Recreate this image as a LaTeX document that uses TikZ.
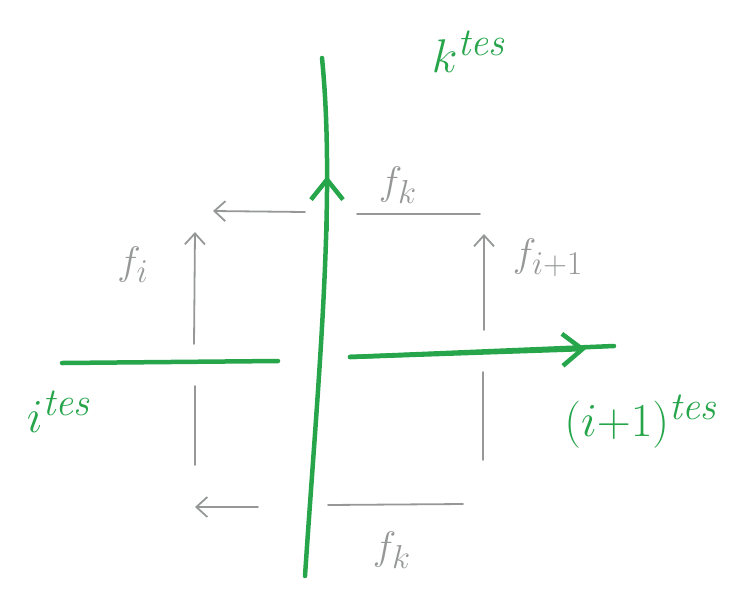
\documentclass[tikz,border=0pt]{standalone}
\usetikzlibrary{arrows.meta}
\usepackage{amsmath}

\definecolor{penGreen}{RGB}{38,165,75}
\definecolor{penGrey}{RGB}{150,152,152}

\begin{document}
\begin{tikzpicture}[x=1pt,y=-1pt,
        pen/.style={penGreen, line width=4.5pt, line cap=round},
        pencil/.style={penGrey, line width=1.8pt, line cap=round},
        greentip/.style={-{Straight Barb[length=20pt,width=32pt,line width=4.5pt]}},
        greytip/.style={-{Straight Barb[length=11pt,width=20pt,line width=1.8pt]}},
        greenlabel/.style={penGreen, font=\Huge, scale=1.9},
        greylabel/.style={penGrey, font=\Huge, scale=1.6}]
        \useasboundingbox (0,0) rectangle (741,606);

        % green strands
        \coordinate (vtop) at (322,58);
        \coordinate (vbot) at (305,576);
        \coordinate (vmid) at (327,176);
        \draw[pen] (vtop) .. controls (336,200) and (318,380) .. (vbot);
        \draw[pen, greentip] (327,230) -- (vmid);
        \coordinate (lstart) at (62,363);
        \coordinate (lend) at (278,361);
        \draw[pen] (lstart) -- (lend);
        \coordinate (rstart) at (350,357);
        \coordinate (rtip) at (586,349);
        \coordinate (rend) at (614,346);
        \draw[pen] (rstart) -- (rend);
        \draw[pen, greentip] (rstart) -- (rtip);

        % grey square, top side
        \coordinate (ta) at (305,212);
        \coordinate (tb) at (213,211);
        \coordinate (tc) at (357,214);
        \coordinate (td) at (480,214);
        \draw[pencil, greytip] (ta) -- (tb);
        \draw[pencil] (tc) -- (td);

        % left side
        \coordinate (la) at (195,465);
        \coordinate (lb) at (195,386);
        \coordinate (lc) at (194,344);
        \coordinate (ld) at (195,232);
        \draw[pencil] (la) -- (lb);
        \draw[pencil, greytip] (lc) -- (ld);

        % right side
        \coordinate (ra) at (483,460);
        \coordinate (rb) at (483,372);
        \coordinate (rc) at (484,330);
        \coordinate (rd) at (484,234);
        \draw[pencil] (ra) -- (rb);
        \draw[pencil, greytip] (rc) -- (rd);

        % bottom side
        \coordinate (ba) at (258,507);
        \coordinate (bb) at (195,507);
        \coordinate (bc) at (328,505);
        \coordinate (bd) at (463,504);
        \draw[pencil, greytip] (ba) -- (bb);
        \draw[pencil] (bc) -- (bd);

        % labels
        \node[greenlabel] (kname) at (470,52) {$k^{\mathit{tes}}$};
        \node[greenlabel] (iname) at (60,412) {$i^{\mathit{tes}}$};
        \node[greenlabel] (jname) at (642,422) {$(i{+}1)^{\mathit{tes}}$};
        \node[greylabel] (ftop) at (398,185) {$f_k$};
        \node[greylabel] (fleft) at (133,265) {$f_i$};
        \node[greylabel] (fright) at (548,258) {$f_{i+1}$};
        \node[greylabel] (fbot) at (392,550) {$f_k$};
\end{tikzpicture}
\end{document}
